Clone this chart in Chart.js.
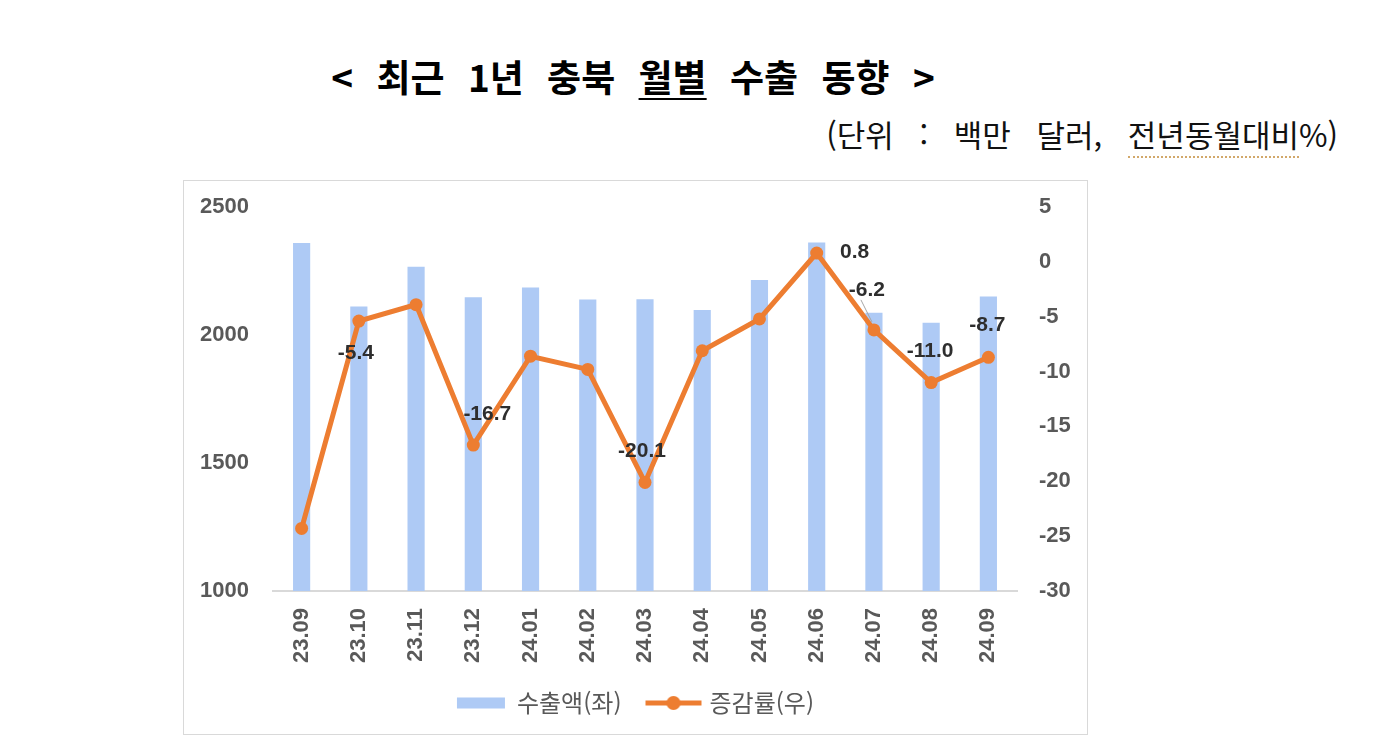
<!DOCTYPE html>
<html lang="ko">
<head>
<meta charset="utf-8">
<script src="https://cdn.jsdelivr.net/npm/chart.js@4.4.0/dist/chart.umd.min.js"></script>
<style>
  html, body { margin: 0; padding: 0; background: #fff; }
  body { width: 1400px; height: 755px; position: relative; overflow: hidden; font-family: "Noto Sans CJK KR", sans-serif; }
  #title { position: absolute; left: 0; width: 1266px; top: 58px; text-align: center; font-size: 37px; font-weight: 700; line-height: 1; color: #000; word-spacing: 13px; }
  #title u { text-decoration-thickness: 2px; text-underline-offset: 6px; }
  #unit { position: absolute; right: 62px; top: 118px; font-size: 31px; line-height: 1; color: #111; word-spacing: 17px; }
  #unit span { border-bottom: 2px dotted #d2a86a; }
  #box { position: absolute; left: 183px; top: 180px; width: 903px; height: 553px; border: 1px solid #d9d9d9; }
</style>
</head>
<body>
<div id="title">&lt; 최근 1년 충북 <u>월별</u> 수출 동향 &gt;</div>
<div id="unit">(단위 : 백만 달러, <span>전년동월대비</span>%)</div>
<div id="box"><canvas id="chart" width="903" height="553"></canvas></div>
<script>
const months = ['23.09', '23.10', '23.11', '23.12', '24.01', '24.02', '24.03', '24.04', '24.05', '24.06', '24.07', '24.08', '24.09'];
const exportAmt = [2359, 2111, 2267, 2147, 2186, 2139, 2140, 2098, 2215, 2361, 2087, 2048, 2150];
const changeRate = [-24.3, -5.4, -3.9, -16.7, -8.6, -9.8, -20.1, -8.1, -5.2, 0.8, -6.2, -11.0, -8.7];
const seriesNames = ['수출액(좌)', '증감률(우)'];

const ORANGE = '#ed7d31';
const BLUE = '#aecaf5';

// which points get a value label, and where (offset from the point)
const labelPlace = {
    1: [-3, 32], 3: [14, -31], 6: [-3, -31], 9: [38, -1],
    10: [-7, -40], 11: [-1, -31], 12: [-1, -32]
};

// legend swatch for the line: line + marker
const lineSwatch = document.createElement('canvas');
lineSwatch.width = 58; lineSwatch.height = 16;
(() => {
    const c = lineSwatch.getContext('2d');
    c.strokeStyle = ORANGE; c.lineWidth = 5;
    c.beginPath(); c.moveTo(1, 8); c.lineTo(57, 8); c.stroke();
    c.fillStyle = ORANGE;
    c.beginPath(); c.arc(29, 8, 7, 0, Math.PI * 2); c.fill();
})();

const valueLabels = {
    id: 'valueLabels',
    afterDatasetsDraw(chart) {
        const meta = chart.getDatasetMeta(1);
        const ctx = chart.ctx;
        ctx.save();
        ctx.font = 'bold 21px "Liberation Sans", Arial, sans-serif';
        ctx.fillStyle = '#2e2e2e';
        ctx.textAlign = 'center';
        ctx.textBaseline = 'middle';
        meta.data.forEach((pt, i) => {
            const off = labelPlace[i];
            if (!off) return;
            const x = pt.x + off[0], y = pt.y + off[1];
            if (i === 10) {
                ctx.strokeStyle = '#a6a6a6'; ctx.lineWidth = 1;
                ctx.beginPath(); ctx.moveTo(x - 6, y + 10); ctx.lineTo(pt.x - 2, pt.y - 8); ctx.stroke();
            }
            ctx.fillText(changeRate[i].toFixed(1), x, y);
        });
        ctx.restore();
    }
};

const tickFont = { family: '"Liberation Sans", Arial, sans-serif', size: 22, weight: 'bold' };

// fixed axis widths; drop the tick padding that Chart.js adds above/below the y axes
const fitY = w => s => { s.width = w; s.paddingTop = 0; s.paddingBottom = 0; };

new Chart(document.getElementById('chart'), {
    type: 'bar',
    data: {
        labels: months,
        datasets: [
            {
                label: seriesNames[0],
                data: exportAmt,
                backgroundColor: BLUE,
                barPercentage: 0.3,
                categoryPercentage: 1,
                yAxisID: 'y',
                order: 2
            },
            {
                label: seriesNames[1],
                type: 'line',
                data: changeRate,
                borderColor: ORANGE,
                backgroundColor: ORANGE,
                borderWidth: 5,
                pointRadius: 6.5,
                pointBackgroundColor: ORANGE,
                pointBorderWidth: 0,
                tension: 0,
                yAxisID: 'y1',
                order: 1
            }
        ]
    },
    options: {
        responsive: false,
        animation: false,
        layout: { padding: { top: 26, left: 0, right: 0, bottom: 9 } },
        plugins: {
            legend: {
                position: 'bottom',
                labels: {
                    color: '#595959',
                    font: { family: '"Noto Sans CJK KR", sans-serif', size: 24 },
                    usePointStyle: true,
                    pointStyleWidth: 48,
                    boxHeight: 11,
                    padding: 28,
                    generateLabels(chart) {
                        const items = Chart.defaults.plugins.legend.labels.generateLabels(chart)
                            .sort((a, b) => a.datasetIndex - b.datasetIndex);
                        items.forEach(it => {
                            if (it.datasetIndex === 0) { it.pointStyle = 'rect'; it.lineWidth = 0; }
                            else it.pointStyle = lineSwatch;
                        });
                        return items;
                    }
                }
            },
            tooltip: { enabled: false }
        },
        scales: {
            x: {
                grid: { display: false },
                border: { display: true, color: '#d9d9d9', width: 2 },
                ticks: { color: '#595959', font: tickFont, minRotation: 90, maxRotation: 90, padding: 9 },
                afterFit(s) { s.height = 72; }
            },
            y: {
                position: 'left',
                min: 1000, max: 2500,
                grid: { display: false },
                border: { display: false },
                ticks: { stepSize: 500, color: '#595959', font: tickFont, padding: 16, callback: v => String(v) },
                afterFit: fitY(89)
            },
            y1: {
                position: 'right',
                min: -30, max: 5,
                grid: { display: false },
                border: { display: false },
                ticks: { stepSize: 5, color: '#595959', font: tickFont, padding: 14, callback: v => String(v) },
                afterFit: fitY(70)
            }
        }
    },
    plugins: [valueLabels]
});
</script>
</body>
</html>
